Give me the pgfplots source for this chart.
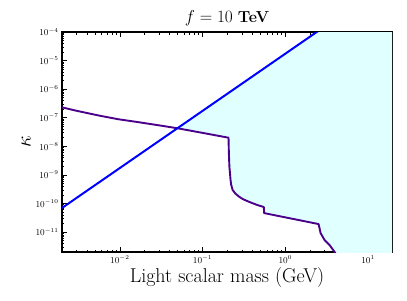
\documentclass[border=0pt]{standalone}
\usepackage{pgfplots}
\pgfplotsset{compat=1.18}
\definecolor{fillc}{RGB}{224,255,255}
\definecolor{purp}{RGB}{75,0,140}
\begin{document}
\begin{tikzpicture}
\useasboundingbox (-62pt,-48pt) rectangle (345pt,252pt);
\begin{axis}[
  at={(0,0)}, anchor=south west,
  xmode=log, ymode=log, scale only axis,
  width=330pt, height=220pt,
  xmin=0.002, xmax=19.5, ymin=2e-12, ymax=1e-4,
  tick align=inside,
  xtick={0.01,0.1,1,10},
  ytick={1e-11,1e-10,1e-9,1e-8,1e-7,1e-6,1e-5,1e-4},
  minor xtick={0.002,0.003,0.004,0.005,0.006,0.007,0.008,0.009,0.02,0.03,0.04,0.05,0.06,0.07,0.08,0.09,0.2,0.3,0.4,0.5,0.6,0.7,0.8,0.9,2,3,4,5,6,7,8,9},
  minor ytick={2e-12,3e-12,4e-12,5e-12,6e-12,7e-12,8e-12,9e-12,2e-11,3e-11,4e-11,5e-11,6e-11,7e-11,8e-11,9e-11,2e-10,3e-10,4e-10,5e-10,6e-10,7e-10,8e-10,9e-10,2e-9,3e-9,4e-9,5e-9,6e-9,7e-9,8e-9,9e-9,2e-8,3e-8,4e-8,5e-8,6e-8,7e-8,8e-8,9e-8,2e-7,3e-7,4e-7,5e-7,6e-7,7e-7,8e-7,9e-7,2e-6,3e-6,4e-6,5e-6,6e-6,7e-6,8e-6,9e-6,2e-5,3e-5,4e-5,5e-5,6e-5,7e-5,8e-5,9e-5},
  major tick length=5pt, minor tick length=2.5pt,
  axis line style={line width=1.4pt},
  every tick/.style={black, line width=0.6pt},
  tick label style={font=\fontsize{9}{10}\selectfont},
  xlabel={Light scalar mass (GeV)},
  ylabel={$\kappa$},
  title={$f = 10$ \textbf{TeV}},
  xlabel style={font=\fontsize{20}{22}\selectfont, yshift=3pt},
  ylabel style={font=\fontsize{20}{22}\selectfont, yshift=-2pt},
  title style={font=\fontsize{16}{19}\selectfont, yshift=-3pt},
  clip=true,
]
\addplot[fill=fillc, draw=none] coordinates {
 (0.05,4.3e-8) (2.4,1e-4) (20,1e-4) (20,1.5e-12) (4.2,1.5e-12) (3.95,2e-12)
 (3.43,3.5e-12) (2.99,5.2e-12) (2.67,9.2e-12) (2.53,1.9e-11) (0.555,4.6e-11)
 (0.55,7.5e-11) (0.45,9e-11) (0.37,1.12e-10) (0.31,1.4e-10) (0.28,1.68e-10) (0.25,2.2e-10) (0.231,2.95e-10) (0.222,4.5e-10) (0.218,6.6e-10)
 (0.211,2e-9) (0.208,6e-9) (0.206,2.0e-8) (0.1,2.95e-8) (0.05,4.3e-8)} -- cycle;
\addplot[purp, line width=1.9pt, line join=round] coordinates {
 (0.002,2.31e-7) (0.003,1.75e-7) (0.00569,1.18e-7) (0.0095,8.9e-8) (0.0173,6.9e-8) (0.03,5.4e-8) (0.0499,4.27e-8) (0.1,2.95e-8)
 (0.206,2.0e-8) (0.208,6e-9) (0.211,2e-9) (0.218,6.6e-10) (0.222,4.5e-10) (0.231,2.95e-10) (0.25,2.2e-10) (0.28,1.68e-10) (0.31,1.4e-10)
 (0.37,1.12e-10) (0.45,9e-11) (0.55,7.5e-11) (0.555,4.6e-11) (2.53,1.9e-11) (2.67,9.2e-12)
 (2.99,5.2e-12) (3.43,3.5e-12) (3.95,2e-12) (4.2,1.5e-12)};
\addplot[blue, line width=2pt] coordinates {(0.002,6.95e-11) (2.4,1e-4) (3,1.56e-4)};
\end{axis}
\end{tikzpicture}
\end{document}
